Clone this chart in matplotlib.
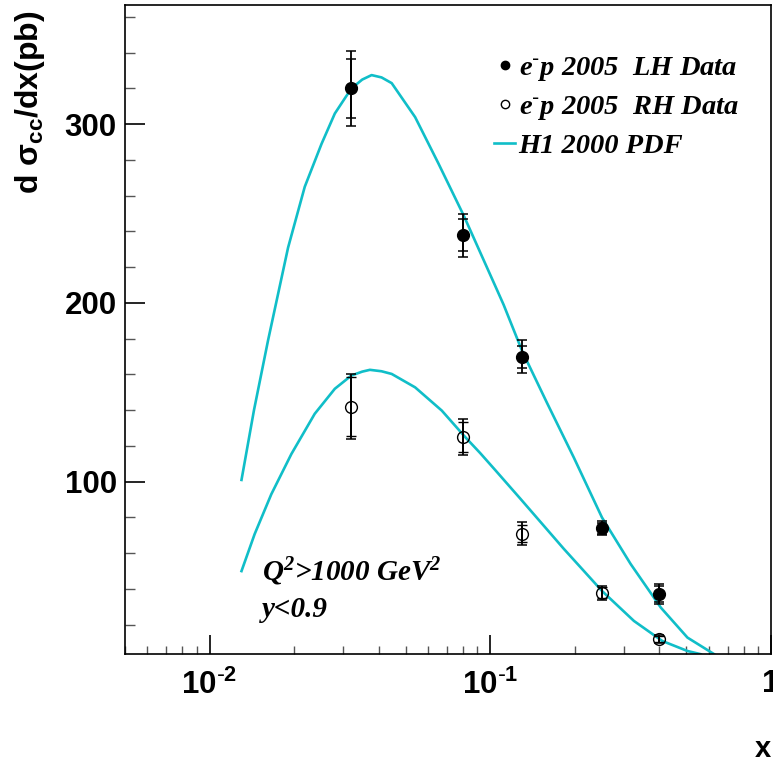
import matplotlib
matplotlib.use('Agg')
from matplotlib import pyplot as plt
from matplotlib.lines import Line2D
from matplotlib.ticker import FixedLocator, FixedFormatter, MultipleLocator, NullFormatter

plt.rcParams['mathtext.default'] = 'regular'

# data points
x_pts = [0.032, 0.08, 0.13, 0.25, 0.4]
lh_y = [320, 238, 170, 74, 37]
lh_stat = [16.5, 9, 6.2, 3, 4.5]
lh_tot = [21, 12, 9.2, 4, 5.6]
rh_y = [142, 125, 71, 38, 12]
rh_stat = [16.5, 8.5, 5, 3, 1.5]
rh_tot = [18, 10, 6.5, 3.9, 2]

# H1 2000 PDF curves
lh_curve_x = [0.013, 0.0144, 0.01616, 0.01905, 0.02184, 0.02506, 0.02795, 0.032,
              0.035, 0.03779, 0.041, 0.04456, 0.054, 0.0654, 0.0804, 0.1042, 0.1116,
              0.13, 0.1594, 0.1985, 0.25, 0.3162, 0.405, 0.504, 0.6275]
lh_curve_y = [101, 140, 179, 231, 265, 289, 306, 320,
              325, 327.5, 326.2, 323, 304, 278, 249, 209.5, 199,
              173, 144, 113.5, 80, 54, 29.6, 12.8, 3.5]
rh_curve_x = [0.013, 0.01448, 0.0166, 0.01957, 0.0237, 0.02795, 0.032, 0.035, 0.03727,
              0.041, 0.04456, 0.054, 0.0672, 0.0814, 0.0921, 0.1042, 0.128, 0.1827,
              0.25, 0.325, 0.41, 0.504, 0.562]
rh_curve_y = [50, 70.7, 93, 115.5, 138, 152, 159.4, 161.6, 162.6,
              161.8, 160.3, 152.8, 139.8, 125, 116, 106.5, 90.5, 62.5,
              38.9, 22.1, 10.9, 5.3, 3.5]

xtick_vals = [0.01, 0.1, 1]
xtick_labels = ['10$^{\\text{-}2}$', '10$^{\\text{-}1}$', '1']
ytick_vals = [100, 200, 300]

cyan = '#10BEC8'
serif = {'family': 'Liberation Serif', 'weight': 'bold', 'style': 'italic'}
sans = {'family': 'Liberation Sans', 'weight': 'bold'}

fig = plt.figure(figsize=(7.73, 7.62), dpi=100)
ax = fig.add_axes([0.1617, 0.1417, 0.8357, 0.8517])

ax.plot(lh_curve_x, lh_curve_y, color=cyan, lw=1.9, zorder=2)
ax.plot(rh_curve_x, rh_curve_y, color=cyan, lw=1.9, zorder=2)

ax.errorbar(x_pts, lh_y, yerr=lh_tot, fmt='none', ecolor='black', elinewidth=1.3,
            capsize=3.5, capthick=1.1, zorder=3)
ax.errorbar(x_pts, lh_y, yerr=lh_stat, fmt='o', color='black', ms=8.5, mfc='black',
            ecolor='black', elinewidth=1.3, capsize=3.5, capthick=1.1, zorder=4)
ax.errorbar(x_pts, rh_y, yerr=rh_tot, fmt='none', ecolor='black', elinewidth=1.3,
            capsize=3.5, capthick=1.1, zorder=3)
ax.errorbar(x_pts, rh_y, yerr=rh_stat, fmt='o', color='black', ms=8.5, mfc='none',
            mew=1.0, ecolor='black', elinewidth=1.3, capsize=3.5, capthick=1.1, zorder=4)

ax.set_xscale('log')
ax.set_xlim(0.005, 1.0)
ax.set_ylim(3.6, 366.7)

ax.xaxis.set_major_locator(FixedLocator(xtick_vals))
ax.xaxis.set_major_formatter(FixedFormatter(xtick_labels))
ax.xaxis.set_minor_locator(FixedLocator([m * d for d in [0.001, 0.01, 0.1] for m in range(2, 10)]))
ax.xaxis.set_minor_formatter(NullFormatter())
ax.yaxis.set_major_locator(FixedLocator(ytick_vals))
ax.yaxis.set_minor_locator(MultipleLocator(20))

ax.tick_params(which='both', direction='in', top=False, right=False)
ax.tick_params(axis='x', which='major', length=14, width=1.2, pad=11)
ax.tick_params(axis='x', which='minor', length=6, width=1.0, color='#555555')
ax.tick_params(axis='y', which='major', length=14.5, width=1.2, pad=6)
ax.tick_params(axis='y', which='minor', length=7, width=1.0, color='#555555')
for lab in ax.get_xticklabels() + ax.get_yticklabels():
    lab.set_fontfamily('Liberation Sans')
    lab.set_fontweight('bold')
    lab.set_fontsize(22.5)
for sp in ax.spines.values():
    sp.set_linewidth(1.2)

ax.set_ylabel('d σ$_{cc}$/dx(pb)', fontsize=23, loc='top', **sans)
ax.yaxis.set_label_coords(-0.121, 0.992)
ax.set_xlabel('x', fontsize=21, loc='right', **sans)
ax.xaxis.set_label_coords(1.0, -0.125)

ax.text(0.212, 0.1125, 'Q$^2$>1000 GeV$^2$', transform=ax.transAxes, fontsize=21,
        ha='left', va='baseline', **serif)
ax.text(0.212, 0.057, 'y<0.9', transform=ax.transAxes, fontsize=21,
        ha='left', va='baseline', **serif)

handles = [Line2D([], [], ls='none', marker='o', ms=6, color='black', mfc='black'),
           Line2D([], [], ls='none', marker='o', ms=6, color='black', mfc='none', mew=1.0),
           Line2D([], [], color=cyan, lw=1.9)]
labels = ['e$^{\\text{-}}$p 2005  LH Data', 'e$^{\\text{-}}$p 2005  RH Data', 'H1 2000 PDF']
leg = ax.legend(handles, labels, loc='upper left', bbox_to_anchor=(0.571, 0.923),
                frameon=False, handlelength=0.75, handletextpad=0.12, labelspacing=0.38,
                borderpad=0, borderaxespad=0,
                prop={'family': 'Liberation Serif', 'weight': 'bold',
                      'style': 'italic', 'size': 20.5})

fig.savefig('out.png', dpi=100)
